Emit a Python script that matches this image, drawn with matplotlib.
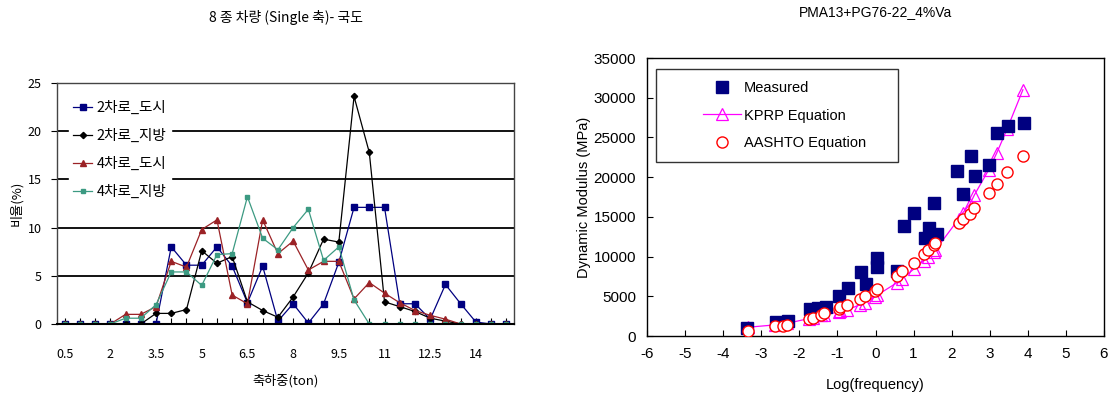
import matplotlib
matplotlib.use("Agg")
import matplotlib.pyplot as plt
from matplotlib.patches import Rectangle

# ---- left chart: axle load distribution ----
loads = ["0.5", "1", "1.5", "2", "2.5", "3", "3.5", "4", "4.5", "5",
         "5.5", "6", "6.5", "7", "7.5", "8", "8.5", "9", "9.5", "10",
         "10.5", "11", "11.5", "12", "12.5", "13", "13.5", "14", "14.5", "15"]

road2_city = [0, 0, 0, 0, 0, 0, 0, 8.0, 6.1, 6.1, 8.0, 6.0, 2.2, 6.0, 0.3,
              2.1, 0.1, 2.1, 6.4, 12.1, 12.1, 12.1, 2.1, 2.1, 0.5, 4.1, 2.1, 0.2, 0, 0]
road2_rural = [0, 0, 0, 0, 0, 0, 1.1, 1.1, 1.5, 7.6, 6.3, 7.0, 2.3, 1.4, 0.7,
               2.8, 5.3, 8.8, 8.5, 23.6, 17.8, 2.3, 1.8, 1.3, 0.6, 0.3, 0, 0, 0, 0]
road4_city = [0, 0, 0, 0, 1.0, 1.0, 1.8, 6.5, 5.9, 9.8, 10.8, 3.0, 2.1, 10.8, 7.3,
              8.6, 5.6, 6.5, 6.5, 2.6, 4.3, 3.2, 2.2, 1.4, 0.9, 0.5, 0, 0, 0, 0]
road4_rural = [0, 0, 0, 0, 0.6, 0.6, 2.0, 5.4, 5.4, 4.0, 7.2, 7.3, 13.2, 8.9, 7.7,
               10.0, 11.9, 6.6, 8.0, 2.5, 0, 0, 0, 0, 0, 0, 0, 0, 0, 0]

# ---- right chart: dynamic modulus ----
meas_x = [-3.38, -2.6, -2.3, -1.72, -1.5, -1.3, -0.97, -0.72, -0.39, -0.25,
          0.03, 0.05, 0.56, 0.74, 1.02, 1.3, 1.41, 1.53, 1.62, 2.15,
          2.3, 2.5, 2.6, 2.98, 3.2, 3.47, 3.89]
meas_y = [1000, 1750, 1850, 3350, 3550, 3600, 5000, 6000, 8000, 6500,
          8700, 9800, 8200, 13900, 15500, 12300, 13600, 16800, 12800, 20800,
          17900, 22700, 20200, 21500, 25500, 26400, 26800]

freq_x = [-3.36, -2.63, -2.44, -2.32, -1.74, -1.64, -1.44, -1.34, -0.97, -0.93,
          -0.75, -0.42, -0.28, -0.02, 0.03, 0.56, 0.69, 1.0, 1.27, 1.39,
          1.53, 1.57, 2.18, 2.29, 2.48, 2.59, 2.97, 3.18, 3.45, 3.87]
kprp_y = [1100, 1400, 1500, 1600, 2200, 2300, 2600, 2700, 3000, 3100,
          3300, 3900, 4200, 4900, 5100, 6700, 7200, 8400, 9500, 10000,
          10600, 10800, 14700, 15500, 16600, 17700, 20900, 23000, 26000, 31000]
aashto_y = [600, 1200, 1300, 1400, 2100, 2300, 2700, 2850, 3450, 3600,
            3850, 4600, 5000, 5700, 5900, 7600, 8200, 9250, 10300, 10850,
            11400, 11700, 14200, 14700, 15400, 16100, 18000, 19100, 20600, 22600]

kr = ["Noto Sans CJK KR", "DejaVu Sans"]
plt.rcParams["font.family"] = ["Liberation Sans", "DejaVu Sans"]
plt.rcParams["axes.unicode_minus"] = False

fig = plt.figure(figsize=(11.1, 4.09), dpi=100)

# ================= left =================
ax1 = fig.add_axes([57 / 1110, 1 - 324 / 409, 457 / 1110, 241 / 409])
idx = list(range(len(loads)))

ax1.plot(idx, road2_city, color="#000080", marker="s", ms=4.5, lw=0.9, label="2차로_도시")
ax1.plot(idx, road2_rural, color="black", marker="D", ms=3.2, lw=0.9, label="2차로_지방")
ax1.plot(idx, road4_city, color="#9B2226", marker="^", ms=4.5, lw=0.9, label="4차로_도시")
ax1.plot(idx, road4_rural, color="#3C9A82", marker="s", ms=3.5, lw=0.9, label="4차로_지방")

for g in [5, 10, 15, 20]:
    ax1.axhline(g, color="black", lw=1.3, zorder=0)

ax1.set_xlim(-0.5, len(loads) - 0.5)
ax1.set_ylim(0, 25)
ax1.set_yticks([0, 5, 10, 15, 20, 25])
ax1.set_xticks(idx)
ax1.set_xticklabels([lab if i % 3 == 0 else "" for i, lab in enumerate(loads)])
ax1.tick_params(axis="x", direction="in", length=4, pad=17, labelsize=9)
ax1.tick_params(axis="y", direction="out", length=4, pad=7, labelsize=9)
for lab in ax1.get_xticklabels() + ax1.get_yticklabels():
    lab.set_family(kr)
for s in ax1.spines.values():
    s.set_color("#444444")
    s.set_linewidth(1.0)
ax1.spines["bottom"].set_color("black")
ax1.spines["bottom"].set_linewidth(1.5)

ax1.set_title("8 종 차량 (Single 축)- 국도", family=kr, fontsize=10, pad=44)
ax1.set_xlabel("축하중(ton)", family=kr, fontsize=9.5, labelpad=10)
ax1.set_ylabel("비율(%)", family=kr, fontsize=9.5, labelpad=3)

leg1 = ax1.legend(loc="upper left", bbox_to_anchor=(0.01, 0.975), frameon=True,
                  framealpha=1, edgecolor="white", fancybox=False,
                  prop={"family": kr, "size": 10.5}, handlelength=1.3,
                  handletextpad=0.3, labelspacing=0.95, borderpad=0.3)

# ================= right =================
ax2 = fig.add_axes([647 / 1110, 1 - 336 / 409, 457 / 1110, 278 / 409])

ax2.plot(freq_x, kprp_y, color="#FF00FF", lw=0.9, marker="^", ms=8,
         mfc="none", mec="#FF00FF", mew=0.9, label="KPRP Equation", zorder=2)
ax2.plot(meas_x, meas_y, ls="none", marker="s", ms=8, color="#000080",
         label="Measured", zorder=3)
ax2.plot(freq_x, aashto_y, ls="none", marker="o", ms=8, mfc="white",
         mec="#FF0000", mew=1.0, label="AASHTO Equation", zorder=4)

ax2.set_xlim(-6, 6)
ax2.set_ylim(0, 35000)
ax2.set_xticks(range(-6, 7))
ax2.set_yticks(range(0, 35001, 5000))
ax2.tick_params(direction="in", length=4, labelsize=11, pad=8)
for s in ax2.spines.values():
    s.set_linewidth(1.0)
ax2.set_title("PMA13+PG76-22_4%Va", fontsize=10, pad=30)
ax2.set_xlabel("Log(frequency)", fontsize=10.5, labelpad=12)
ax2.set_ylabel("Dynamic Modulus (MPa)", fontsize=10.5, labelpad=2)

ax2.add_patch(Rectangle((0.02, 0.626), 0.53, 0.334, transform=ax2.transAxes,
                        facecolor="white", edgecolor="#333333", lw=1.0, zorder=5))
h, l = ax2.get_legend_handles_labels()
order = [1, 0, 2]
leg2 = ax2.legend([h[i] for i in order], [l[i] for i in order],
                  loc="upper left", bbox_to_anchor=(0.1, 0.955), frameon=False,
                  fontsize=10.5, handlelength=2.6, handletextpad=0.2,
                  labelspacing=0.95, borderpad=0.2)
leg2.set_zorder(6)

fig.savefig("out.png", dpi=100)
